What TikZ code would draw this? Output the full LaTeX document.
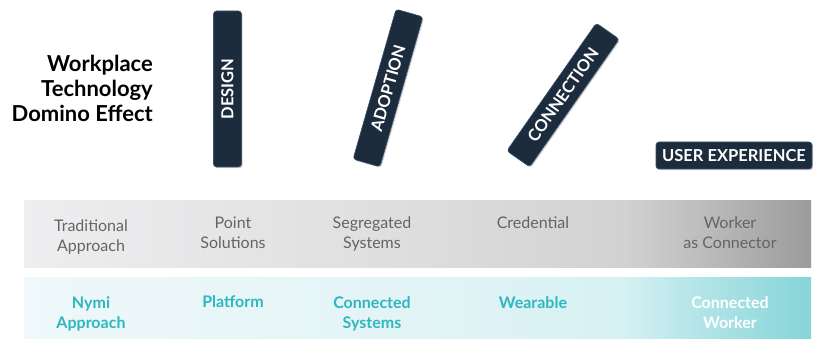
\documentclass[tikz,border=0pt]{standalone}
\usepackage{fontspec}
\setmainfont{Lato}
\usetikzlibrary{shadows}
\definecolor{domino}{HTML}{1C2C3D}
\definecolor{dominoedge}{HTML}{3A5272}
\definecolor{oldtext}{HTML}{646464}
\definecolor{newtext}{HTML}{2DB7BE}
\definecolor{gA}{HTML}{EEEEF0}
\definecolor{gB}{HTML}{DEDEDF}
\definecolor{gC}{HTML}{D2D2D2}
\definecolor{gD}{HTML}{BDBDBD}
\definecolor{gE}{HTML}{9B9B9B}
\definecolor{tA}{HTML}{EFF8FA}
\definecolor{tB}{HTML}{E3F4F6}
\definecolor{tC}{HTML}{D6F1F3}
\definecolor{tD}{HTML}{B2E4E7}
\definecolor{tE}{HTML}{86D5D9}
\pgfdeclarehorizontalshading{grayband}{100bp}{color(0bp)=(gA); color(25bp)=(gA); color(49bp)=(gB); color(63bp)=(gC); color(68bp)=(gD); color(75bp)=(gE); color(100bp)=(gE)}
\pgfdeclarehorizontalshading{tealband}{100bp}{color(0bp)=(tA); color(25bp)=(tA); color(49bp)=(tB); color(63bp)=(tC); color(68bp)=(tD); color(75bp)=(tE); color(100bp)=(tE)}

\begin{document}
\begin{tikzpicture}[x=1pt,y=-1pt,
	domino/.style={draw=dominoedge, line width=0.6pt, fill=domino, rounded corners=3pt, minimum width=156pt, minimum height=28pt, inner sep=0pt, text=white, font=\bfseries\fontsize{16.5}{16}\selectfont, drop shadow={opacity=0.35, shadow xshift=1.2pt, shadow yshift=-1.2pt}},
	oldlabel/.style={anchor=north, align=center, inner sep=0pt, text=oldtext, font=\fontsize{16}{20}\selectfont},
	newlabel/.style={anchor=north, align=center, inner sep=0pt, text=newtext, font=\bfseries\fontsize{16}{20}\selectfont}]
	\useasboundingbox (0,0) rectangle (820,339);
	\node[anchor=north east, align=right, inner sep=0pt, font=\bfseries\fontsize{22}{25}\selectfont] (title) at (153,55) {Workplace\\Technology\\Domino Effect};
	\node[domino, rotate=90] (design) at (227.5,89) {DESIGN};
	\node[domino, rotate=74] (adoption) at (388,88) {ADOPTION};
	\node[domino, rotate=55] (connection) at (563,95) {CONNECTION};
	\node[domino, minimum height=27pt] (userexp) at (734,155.5) {USER EXPERIENCE};
	\shade[shading=grayband] (24,201) rectangle (811,268);
	\shade[shading=tealband] (24,278) rectangle (811,339);
	\node[oldlabel] (trad) at (91,220) {Traditional\\Approach};
	\node[oldlabel] (point) at (233,217) {Point\\Solutions};
	\node[oldlabel] (segr) at (372,217) {Segregated\\Systems};
	\node[oldlabel] (cred) at (533,217) {Credential};
	\node[oldlabel] (worker) at (730,217) {Worker\\as Connector};
	\node[newlabel] (nymi) at (91,296) {Nymi\\Approach};
	\node[newlabel] (platf) at (233,295) {Platform};
	\node[newlabel] (conn) at (372,296) {Connected\\Systems};
	\node[newlabel] (wear) at (533,296) {Wearable};
	\node[newlabel, text=white] (connw) at (730,296) {Connected\\Worker};
\end{tikzpicture}
\end{document}
